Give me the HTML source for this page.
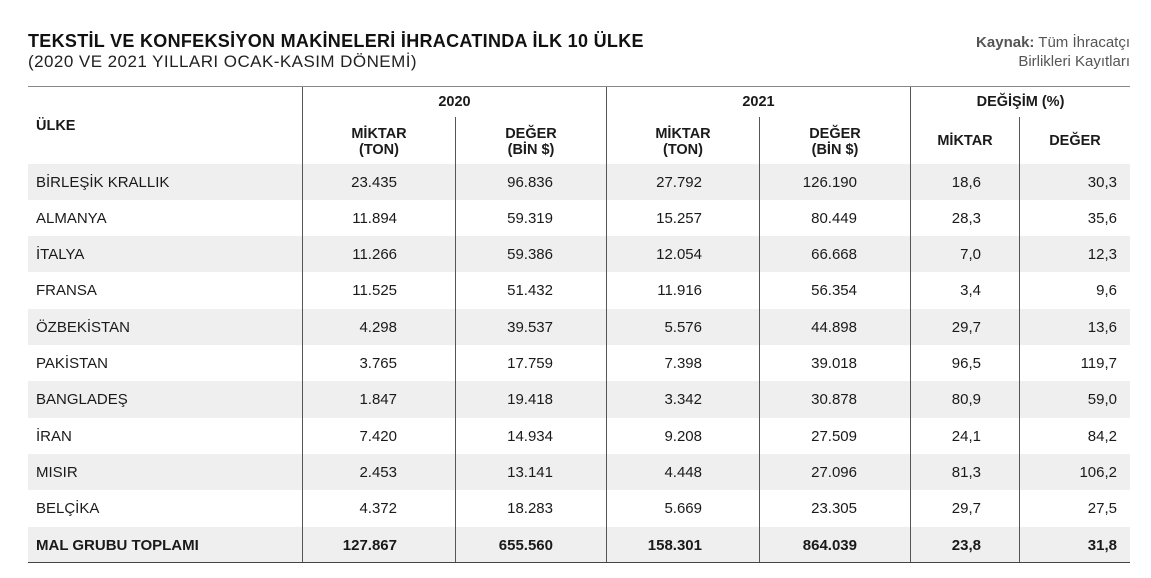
<!DOCTYPE html>
<html><head><meta charset="utf-8">
<style>
body{margin:0;width:1151px;height:578px;background:#fff;font-family:"Liberation Sans","DejaVu Sans",sans-serif;color:#1a1a1a;position:relative;overflow:hidden}
.a{position:absolute;white-space:nowrap}
.t{left:28px;top:31px;font-size:18px;font-weight:bold;letter-spacing:0.3px;color:#111}
.s{left:28px;top:52px;font-size:17px;color:#222;letter-spacing:0.45px}
.src{right:21px;top:33px;font-size:15px;color:#555;text-align:right;line-height:19px}
.h{font-size:14.5px;font-weight:bold;text-align:center;line-height:16px}
.c{font-size:15px;line-height:20px}
.vl{position:absolute;width:1px;background:#555}
.band{position:absolute;left:28px;width:1102px;background:#efefef}
</style></head><body>
<div class="a t">TEKSTİL VE KONFEKSİYON MAKİNELERİ İHRACATINDA İLK 10 ÜLKE</div>
<div class="a s">(2020 VE 2021 YILLARI OCAK-KASIM DÖNEMİ)</div>
<div class="a src"><b>Kaynak:</b> Tüm İhracatçı<br>Birlikleri Kayıtları</div>
<div id="bands"></div>
<div class="a" style="left:28px;top:86px;width:1102px;height:1px;background:#888"></div>
<div class="a" style="left:28px;top:562px;width:1102px;height:1px;background:#444"></div>
<div class="vl" style="left:302px;top:87px;height:475px"></div>
<div class="vl" style="left:606px;top:87px;height:475px"></div>
<div class="vl" style="left:910px;top:87px;height:475px"></div>
<div class="vl" style="left:455px;top:117px;height:445px"></div>
<div class="vl" style="left:759px;top:117px;height:445px"></div>
<div class="vl" style="left:1019px;top:117px;height:445px"></div>
<div class="a h" style="left:36px;top:118px;text-align:left">ÜLKE</div>
<div class="a h" style="left:303px;width:303px;top:94px">2020</div>
<div class="a h" style="left:607px;width:303px;top:94px">2021</div>
<div class="a h" style="left:911px;width:219px;top:94px">DEĞİŞİM (%)</div>
<div class="a h" style="left:303px;width:152px;top:126px">MİKTAR<br>(TON)</div>
<div class="a h" style="left:456px;width:150px;top:126px">DEĞER<br>(BİN $)</div>
<div class="a h" style="left:607px;width:152px;top:126px">MİKTAR<br>(TON)</div>
<div class="a h" style="left:760px;width:150px;top:126px">DEĞER<br>(BİN $)</div>
<div class="a h" style="left:911px;width:108px;top:133px">MİKTAR</div>
<div class="a h" style="left:1020px;width:110px;top:133px">DEĞER</div>
<div id="rows"></div>
<script>
const countries=["BİRLEŞİK KRALLIK","ALMANYA","İTALYA","FRANSA","ÖZBEKİSTAN","PAKİSTAN","BANGLADEŞ","İRAN","MISIR","BELÇİKA","MAL GRUBU TOPLAMI"];
const qty2020=["23.435","11.894","11.266","11.525","4.298","3.765","1.847","7.420","2.453","4.372","127.867"];
const val2020=["96.836","59.319","59.386","51.432","39.537","17.759","19.418","14.934","13.141","18.283","655.560"];
const qty2021=["27.792","15.257","12.054","11.916","5.576","7.398","3.342","9.208","4.448","5.669","158.301"];
const val2021=["126.190","80.449","66.668","56.354","44.898","39.018","30.878","27.509","27.096","23.305","864.039"];
const qtyChg=["18,6","28,3","7,0","3,4","29,7","96,5","80,9","24,1","81,3","29,7","23,8"];
const valChg=["30,3","35,6","12,3","9,6","13,6","119,7","59,0","84,2","106,2","27,5","31,8"];
const cols=[qty2020,val2020,qty2021,val2021,qtyChg,valChg];
const rights=[397,553,702,857,981,1117];
const bands=document.getElementById('bands'),rows=document.getElementById('rows');
const top0=163.5,rh=36.3;
countries.forEach((c,i)=>{
  const y=top0+i*rh;
  if(i%2===0){const b=document.createElement('div');b.className='band';b.style.top=y+'px';b.style.height=rh+'px';
  
  
  bands.appendChild(b);}
  const bold=i===countries.length-1;
  const n=document.createElement('div');n.className='a c';n.style.left='36px';n.style.top=(y+9)+'px';n.textContent=c;if(bold)n.style.fontWeight='bold';
  
  
  rows.appendChild(n);
  cols.forEach((col,j)=>{
    const d=document.createElement('div');d.className='a c';d.style.right=(1151-rights[j])+'px';d.style.top=(y+9)+'px';d.textContent=col[i];if(bold)d.style.fontWeight='bold';
    
    
    rows.appendChild(d);
  });
});
</script>
</body></html>
